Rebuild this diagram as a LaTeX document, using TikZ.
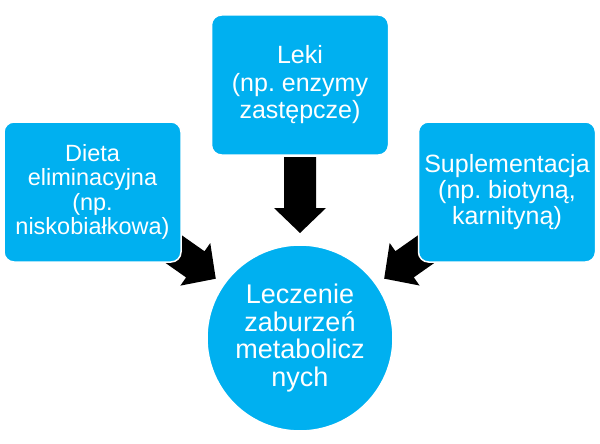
\documentclass[tikz,border=0pt]{standalone}
\usepackage{fontspec}
\setmainfont{Liberation Sans}
\usetikzlibrary{calc}
\definecolor{boxcyan}{RGB}{0,176,240}
\tikzset{
  boxnode/.style={draw=white, line width=1.5pt, fill=boxcyan, rounded corners=10pt,
    minimum width=177pt, minimum height=140pt, inner sep=0pt, text=white, align=center},
  circnode/.style={draw=white, line width=1.5pt, fill=boxcyan, circle,
    minimum size=186pt, inner sep=0pt, text=white, align=center},
  barrow/.pic={\fill[black] (0,0) -- (-25,26) -- (-25,16) -- (-76,16) -- (-76,-16) -- (-25,-16) -- (-25,-26) -- cycle;}
}
\frenchspacing
\begin{document}
\begin{tikzpicture}[x=1pt,y=1pt]
\useasboundingbox (0,0) rectangle (600,-444);
% centres
\coordinate (ctop) at (300,-85);
\coordinate (cleft) at (92.5,-192);
\coordinate (cright) at (507,-192);
\coordinate (ccirc) at (300,-338);
% arrows (behind boxes)
\pic[rotate=-90] at ($(ccirc)!105pt!(ctop)$) {barrow};
\pic[rotate=-35.1] at ($(ccirc)!103pt!(cleft)$) {barrow};
\pic[rotate=-144.9] at ($(ccirc)!103pt!(cright)$) {barrow};
% nodes
\node[boxnode, font=\fontsize{25}{27.5}\selectfont] (top) at (ctop) {Leki\\(np. enzymy\\zastępcze)};
\node[boxnode, font=\fontsize{23.5}{24.3}\selectfont] (left) at (cleft) {Dieta\\eliminacyjna\\(np.\\niskobiałkowa)};
\node[boxnode, font=\fontsize{25}{25.8}\selectfont] (right) at (cright) {Suplementacja\\(np. biotyną,\\karnityną)};
\node[circnode, font=\fontsize{27}{27.5}\selectfont] (circ) at (ccirc) {Leczenie\\zaburzeń\\metabolicz\\nych};
\end{tikzpicture}
\end{document}
